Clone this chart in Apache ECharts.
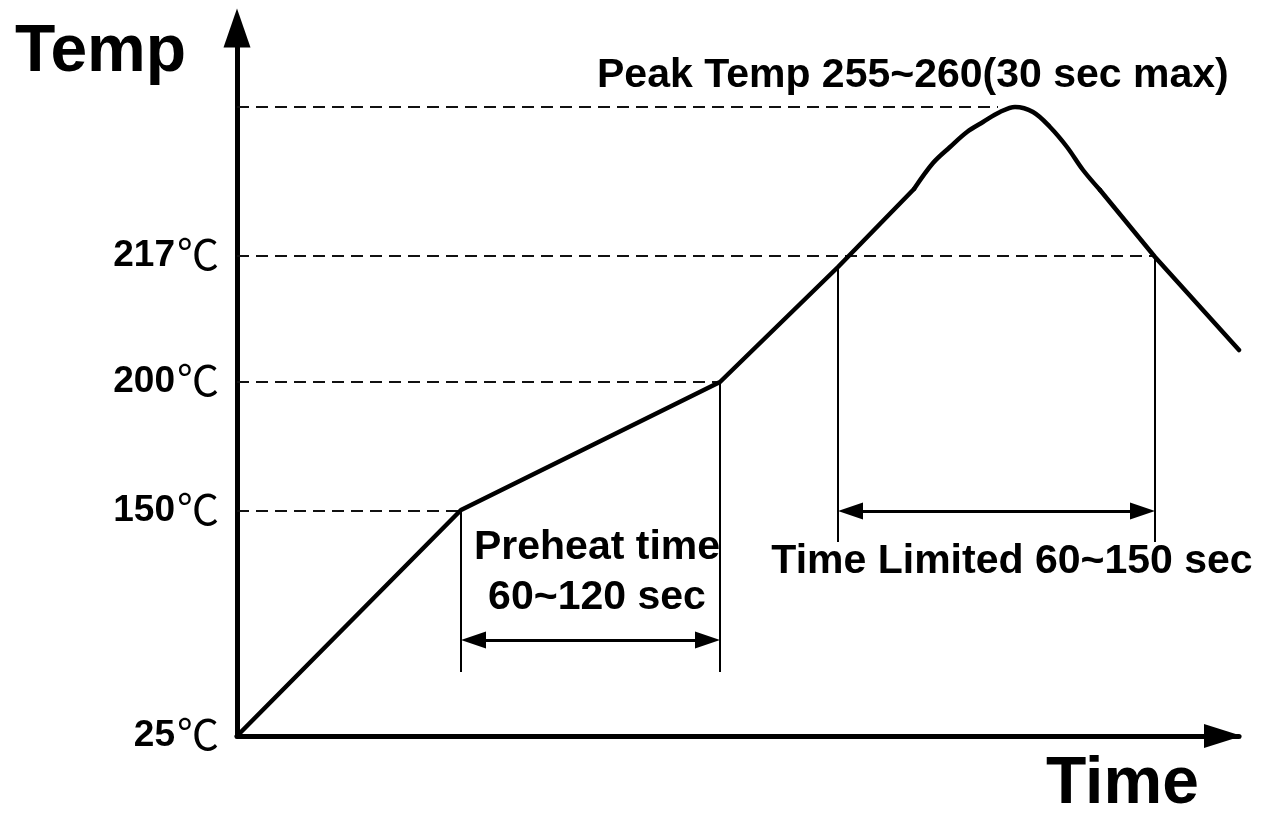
<!DOCTYPE html>
<html>
<head>
<meta charset="utf-8">
<script src="https://cdn.jsdelivr.net/npm/echarts@6/dist/echarts.min.js"></script>
<style>
  html, body { margin: 0; padding: 0; background: #fff; }
  #chart { width: 1263px; height: 818px; }
</style>
</head>
<body>
<div id="chart"></div>
<script>
// schematic reflow profile, units are arbitrary (time →, temp ↑)
const curveX = [0, 224, 483, 601, 677, 696, 713, 730, 746, 763, 778, 796, 813, 830, 846, 863, 918, 1002];
const curveY = [0, 226, 354, 469, 547, 573, 589, 604, 614, 624, 629, 624, 609, 589, 566, 546, 479, 386];
// the rounded peak runs between these two indices of the profile
const peakFrom = 4;
const peakTo = 15;

// temperature levels (label, height on chart, where the dashed guide stops)
const tempLabels = ['25', '150', '200', '217'];
const tempLevels = [0, 225, 354, 480];
const guideLevels = [225, 354, 480, 629];
const guideEnds = [224, 483, 918, 761];

// preheat and time-above-liquidus spans
const preheatX = [224, 483];
const preheatTop = [226, 354];
const preheatBottom = 64;
const preheatArrowY = 96;
const talX = [601, 918];
const talTop = [469, 480];
const talBottom = 194;
const talArrowY = 225;

const font = '"Liberation Sans", Arial, sans-serif';
const headLen = 25;

const chart = echarts.init(document.getElementById('chart'));

const verticals = [];
preheatX.forEach((x, i) => verticals.push([{ coord: [x, preheatTop[i]] }, { coord: [x, preheatBottom] }]));
talX.forEach((x, i) => verticals.push([{ coord: [x, talTop[i]] }, { coord: [x, talBottom] }]));

// arrow heads are centred on the line ends, so pull the ends in by half a head
const span = (xs, y) => [{ coord: [xs[0] + headLen / 2, y] }, { coord: [xs[1] - headLen / 2, y] }];

const pts = curveX.map((x, i) => [x, curveY[i]]);
const profileStyle = { color: '#000', width: 4.5, join: 'round', cap: 'round' };

const option = {
    animation: false,
    grid: { left: 237, right: 24, top: 28, bottom: 82 },
    xAxis: {
        type: 'value',
        min: 0,
        max: 1002,
        axisLine: {
            lineStyle: { color: '#000', width: 5 },
            symbol: ['none', 'triangle'],
            symbolSize: [24, 38],
            symbolOffset: [0, -16]
        },
        axisTick: { show: false },
        axisLabel: { show: false },
        splitLine: { show: false }
    },
    yAxis: {
        type: 'value',
        min: 0,
        max: 708,
        axisLine: {
            show: true,
            lineStyle: { color: '#000', width: 5 },
            symbol: ['none', 'triangle'],
            symbolSize: [27, 39]
        },
        axisTick: { show: false },
        splitLine: { show: false },
        axisLabel: {
            customValues: tempLevels,
            margin: 18,
            formatter: function (v) {
                const i = tempLevels.indexOf(v);
                return '{n|' + tempLabels[i] + '}{c|℃}';
            },
            rich: {
                n: { fontFamily: font, fontWeight: 'bold', fontSize: 37, color: '#000' },
                c: { fontFamily: '"Noto Sans CJK SC"', fontSize: 42, color: '#000', padding: [0, 0, 4, 2] }
            }
        }
    },
    series: [
        {
            name: 'guides',
            type: 'line',
            data: [],
            markLine: {
                silent: true,
                symbol: 'none',
                label: { show: false },
                lineStyle: { color: '#111', width: 1.8, type: [12, 7] },
                data: guideLevels.map((y, i) => [{ coord: [0, y] }, { coord: [guideEnds[i], y] }])
            }
        },
        {
            name: 'spans',
            type: 'line',
            data: [],
            markLine: {
                silent: true,
                symbol: 'none',
                label: { show: false },
                lineStyle: { color: '#000', width: 2, type: 'solid' },
                data: verticals
            }
        },
        {
            name: 'arrows',
            type: 'line',
            data: [],
            markLine: {
                silent: true,
                symbol: ['triangle', 'triangle'],
                symbolSize: [17, headLen],
                label: { show: false },
                lineStyle: { color: '#000', width: 3, type: 'solid' },
                data: [span(preheatX, preheatArrowY), span(talX, talArrowY)]
            }
        },
        {
            name: 'profile',
            type: 'line',
            clip: false,
            symbol: 'none',
            lineStyle: profileStyle,
            data: pts.slice(0, peakFrom + 1),
            z: 5
        },
        {
            name: 'peak',
            type: 'line',
            clip: false,
            symbol: 'none',
            smooth: 0.35,
            lineStyle: profileStyle,
            data: pts.slice(peakFrom, peakTo + 1),
            z: 5
        },
        {
            name: 'cooling',
            type: 'line',
            clip: false,
            symbol: 'none',
            lineStyle: profileStyle,
            data: pts.slice(peakTo),
            z: 5
        }
    ],
    graphic: [
        { type: 'text', left: 15, top: 20, style: { text: 'Temp', font: 'bold 66px ' + font, fill: '#000' } },
        { type: 'text', left: 1046, top: 752, style: { text: 'Time', font: 'bold 66px ' + font, fill: '#000' } },
        { type: 'text', left: 597, top: 55, style: { text: 'Peak Temp 255~260(30 sec max)', font: 'bold 41px ' + font, fill: '#000' } },
        { type: 'text', x: 597, y: 548, style: { text: 'Preheat time', font: 'bold 41px ' + font, fill: '#000', align: 'center', verticalAlign: 'middle' } },
        { type: 'text', x: 597, y: 598, style: { text: '60~120 sec', font: 'bold 41px ' + font, fill: '#000', align: 'center', verticalAlign: 'middle' } },
        { type: 'text', x: 1012, y: 562, style: { text: 'Time Limited 60~150 sec', font: 'bold 41px ' + font, fill: '#000', align: 'center', verticalAlign: 'middle' } }
    ]
};

chart.setOption(option);
</script>
</body>
</html>
